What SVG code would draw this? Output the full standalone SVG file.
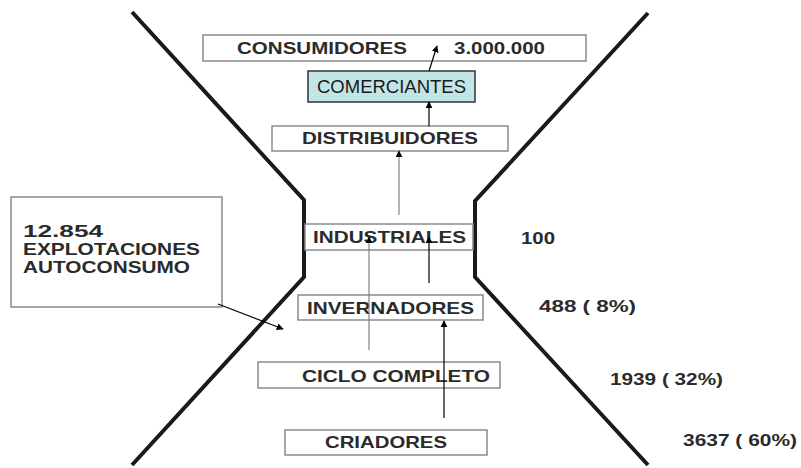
<svg xmlns="http://www.w3.org/2000/svg" width="801" height="468" viewBox="0 0 801 468">
<defs>
<marker id="ah" viewBox="0 0 10 10" refX="9" refY="5" markerWidth="7" markerHeight="7" markerUnits="userSpaceOnUse" orient="auto">
<path d="M0,0 L10,5 L0,10 z" fill="#000"/>
</marker>
</defs>
<style>
.box{fill:#fff;stroke:#8a8a8a;stroke-width:1.5}
.lbl{font-family:"Liberation Sans",Arial,sans-serif;font-weight:bold;font-size:16.5px;fill:#2b2b2b}
.num{font-family:"Liberation Sans",Arial,sans-serif;font-weight:bold;font-size:16.5px;fill:#2b2b2b}
.hg{fill:none;stroke:#1a1a1a;stroke-width:4;stroke-linejoin:miter}
.c{fill:none;stroke:#000;stroke-width:1.2}
.cg{fill:none;stroke:#808080;stroke-width:1.2}
</style>
<rect width="801" height="468" fill="#fff"/>
<g id="hourglass">
<polyline class="hg" points="132,12 304,200 304,277 132,465"/>
<polyline class="hg" points="648,13 475,201 475,277 648,465"/>
</g>
<g id="consumidores">
<rect class="box" x="203" y="35" width="383" height="26"/>
<text class="lbl" x="237" y="54" textLength="170" lengthAdjust="spacingAndGlyphs">CONSUMIDORES</text>
<text class="lbl" x="454" y="54" textLength="91" lengthAdjust="spacingAndGlyphs">3.000.000</text>
</g>
<g id="comerciantes">
<rect x="308" y="71" width="167" height="31" fill="#c2e5e5" stroke="#333" stroke-width="1.5"/>
<text x="317" y="93" font-family="Liberation Sans, Arial, sans-serif" font-size="18" fill="#1a1a1a" textLength="149" lengthAdjust="spacingAndGlyphs">COMERCIANTES</text>
</g>
<g id="distribuidores">
<rect class="box" x="272" y="126" width="236" height="25"/>
<text class="lbl" x="302" y="144" textLength="176" lengthAdjust="spacingAndGlyphs">DISTRIBUIDORES</text>
</g>
<g id="industriales">
<rect class="box" x="305" y="224" width="168" height="26"/>
<text class="lbl" x="313" y="243" textLength="153" lengthAdjust="spacingAndGlyphs">INDUSTRIALES</text>
<text class="num" x="521" y="244" textLength="34" lengthAdjust="spacingAndGlyphs">100</text>
</g>
<g id="invernadores">
<rect class="box" x="298" y="295" width="185" height="25"/>
<text class="lbl" x="307" y="314" textLength="167" lengthAdjust="spacingAndGlyphs">INVERNADORES</text>
<text class="num" x="539" y="312" textLength="97" lengthAdjust="spacingAndGlyphs">488 ( 8%)</text>
</g>
<g id="ciclo">
<rect class="box" x="258" y="362" width="242" height="26"/>
<text class="lbl" x="302" y="382" textLength="188" lengthAdjust="spacingAndGlyphs">CICLO COMPLETO</text>
<text class="num" x="610" y="385" textLength="113" lengthAdjust="spacingAndGlyphs">1939 ( 32%)</text>
</g>
<g id="criadores">
<rect class="box" x="285" y="430" width="202" height="25"/>
<text class="lbl" x="325" y="448" textLength="122" lengthAdjust="spacingAndGlyphs">CRIADORES</text>
<text class="num" x="683" y="446" textLength="114" lengthAdjust="spacingAndGlyphs">3637 ( 60%)</text>
</g>
<g id="autoconsumo">
<rect class="box" x="11" y="197" width="211" height="110"/>
<text class="lbl" x="23" y="237" textLength="80" lengthAdjust="spacingAndGlyphs">12.854</text>
<text class="lbl" x="23" y="255" textLength="177" lengthAdjust="spacingAndGlyphs">EXPLOTACIONES</text>
<text class="lbl" x="23" y="273" textLength="167" lengthAdjust="spacingAndGlyphs">AUTOCONSUMO</text>
</g>
<g id="connectors">
<line class="c" x1="429" y1="71" x2="437" y2="46" marker-end="url(#ah)"/>
<line class="c" x1="429" y1="126" x2="429" y2="102" marker-end="url(#ah)"/>
<line class="cg" x1="399" y1="215" x2="399" y2="151" marker-end="url(#ah)"/>
<line class="cg" x1="369" y1="350" x2="369" y2="237" marker-end="url(#ah)"/>
<line class="c" x1="429" y1="283" x2="429" y2="237" marker-end="url(#ah)"/>
<line class="c" x1="444" y1="418" x2="444" y2="321" marker-end="url(#ah)"/>
<line class="c" x1="218" y1="304" x2="283" y2="329" marker-end="url(#ah)"/>
</g>
</svg>
